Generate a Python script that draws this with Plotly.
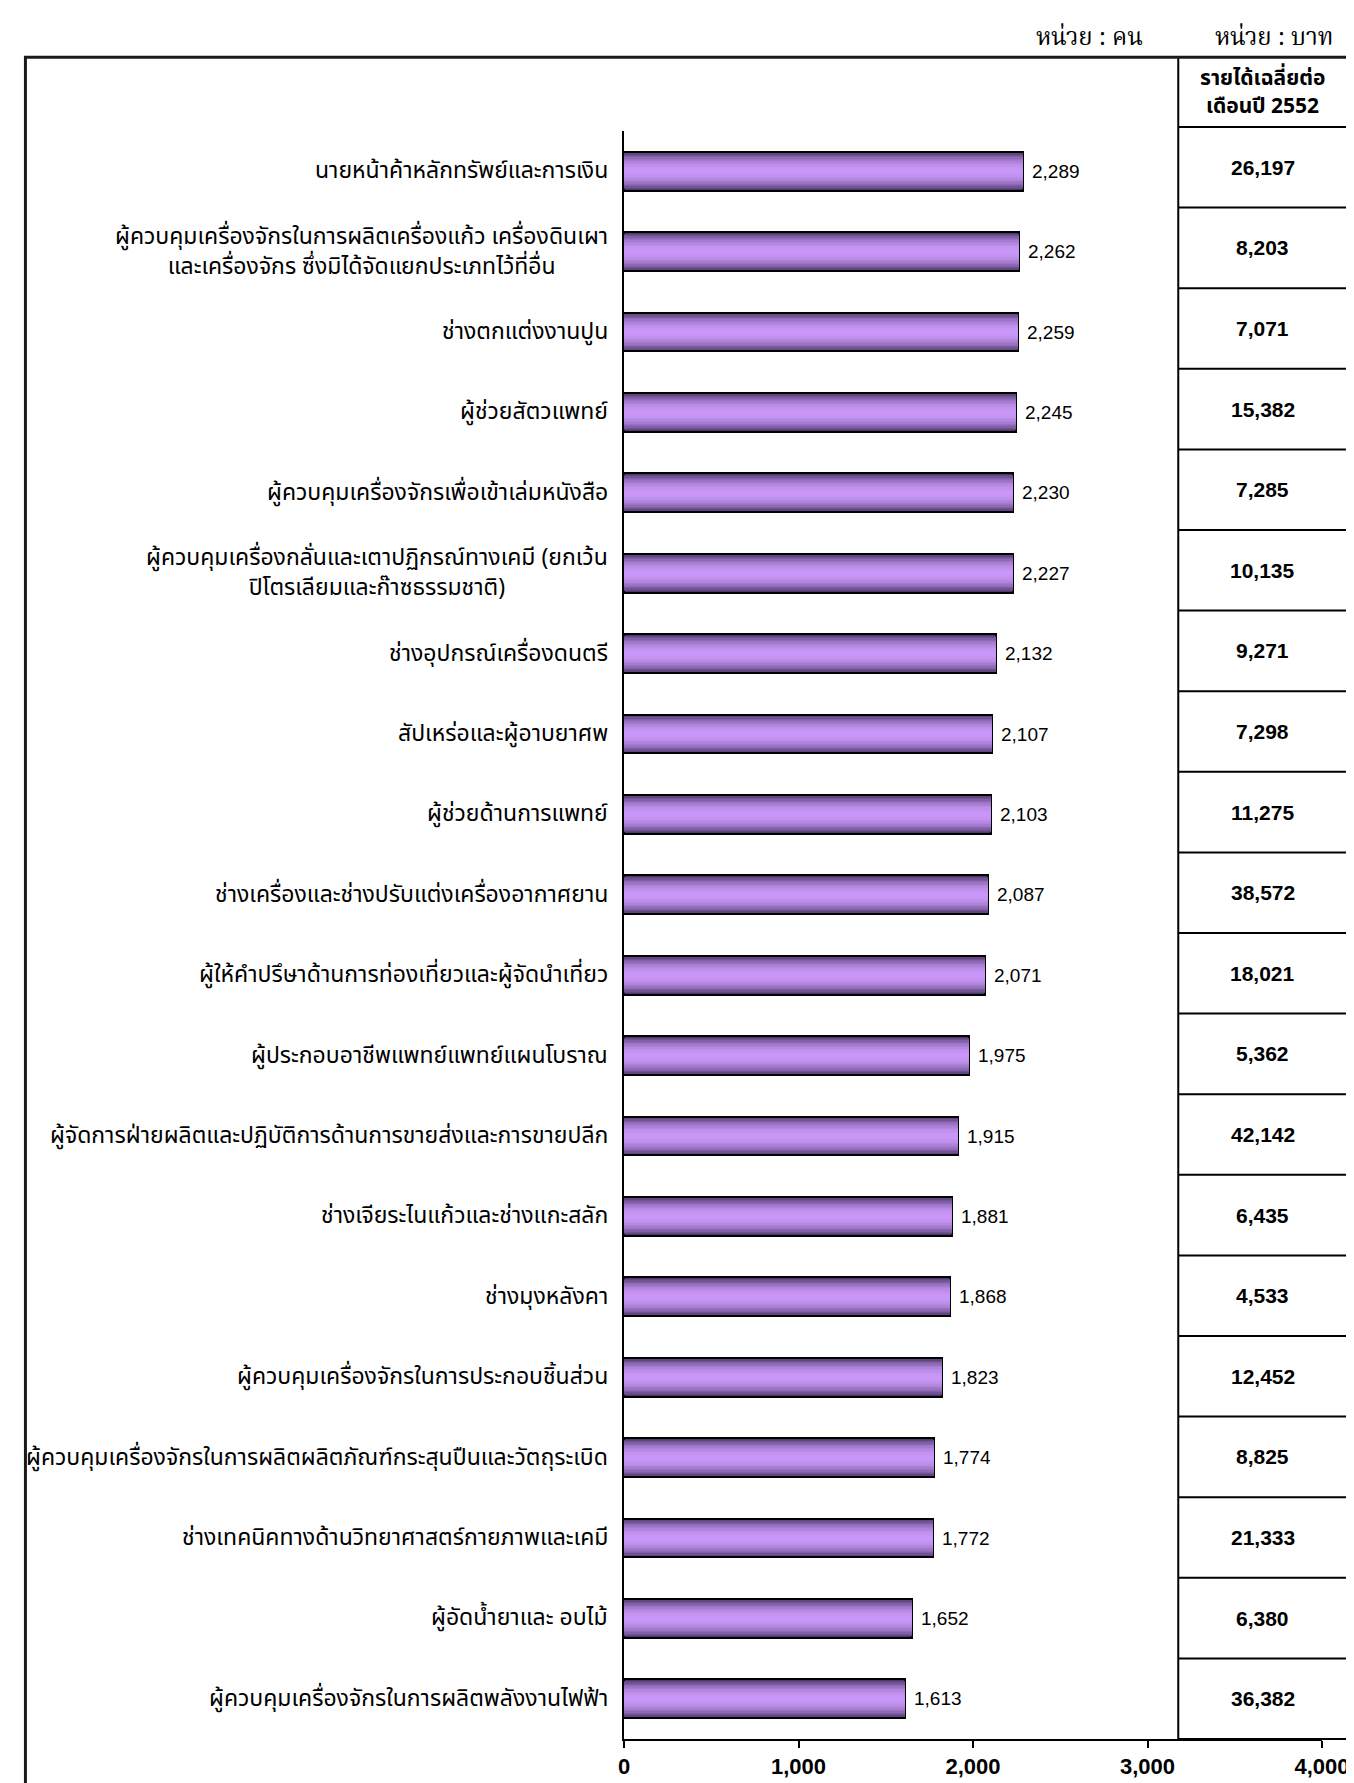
import plotly.graph_objects as go

# ---------------- data ----------------
categories = [
    "นายหน้าค้าหลักทรัพย์และการเงิน",
    "ผู้ควบคุมเครื่องจักรในการผลิตเครื่องแก้ว เครื่องดินเผา<br>และเครื่องจักร ซึ่งมิได้จัดแยกประเภทไว้ที่อื่น",
    "ช่างตกแต่งงานปูน",
    "ผู้ช่วยสัตวแพทย์",
    "ผู้ควบคุมเครื่องจักรเพื่อเข้าเล่มหนังสือ",
    "ผู้ควบคุมเครื่องกลั่นและเตาปฏิกรณ์ทางเคมี (ยกเว้น<br>ปิโตรเลียมและก๊าซธรรมชาติ)",
    "ช่างอุปกรณ์เครื่องดนตรี",
    "สัปเหร่อและผู้อาบยาศพ",
    "ผู้ช่วยด้านการแพทย์",
    "ช่างเครื่องและช่างปรับแต่งเครื่องอากาศยาน",
    "ผู้ให้คำปรึษาด้านการท่องเที่ยวและผู้จัดนำเที่ยว",
    "ผู้ประกอบอาชีพแพทย์แพทย์แผนโบราณ",
    "ผู้จัดการฝ่ายผลิตและปฏิบัติการด้านการขายส่งและการขายปลีก",
    "ช่างเจียระไนแก้วและช่างแกะสลัก",
    "ช่างมุงหลังคา",
    "ผู้ควบคุมเครื่องจักรในการประกอบชิ้นส่วน",
    "ผู้ควบคุมเครื่องจักรในการผลิตผลิตภัณฑ์กระสุนปืนและวัตถุระเบิด",
    "ช่างเทคนิคทางด้านวิทยาศาสตร์กายภาพและเคมี",
    "ผู้อัดน้ำยาและ อบไม้",
    "ผู้ควบคุมเครื่องจักรในการผลิตพลังงานไฟฟ้า",
]
workers = [2289, 2262, 2259, 2245, 2230, 2227, 2132, 2107, 2103, 2087,
           2071, 1975, 1915, 1881, 1868, 1823, 1774, 1772, 1652, 1613]
income = [26197, 8203, 7071, 15382, 7285, 10135, 9271, 7298, 11275, 38572,
          18021, 5362, 42142, 6435, 4533, 12452, 8825, 21333, 6380, 36382]
x_ticks = [0, 1000, 2000, 3000, 4000]
income_header = ["รายได้เฉลี่ยต่อ", "เดือนปี 2552"]
unit_workers = "หน่วย : คน"
unit_income = "หน่วย : บาท"

# ---------------- layout geometry (pixels) ----------------
W, H = 1354, 1783
PL, PR, PT, PB = 616, 1325, 123, 1734   # plot area


def px_x(px):
    return (px - PL) / (PR - PL)


def px_y(py):
    return (PB - py) / (PB - PT)


THAI = "Tahoma, 'Noto Sans Thai', 'Noto Sans Thai UI', Loma, Garuda, 'Leelawadee UI', sans-serif"
THAI_SERIF = "'Angsana New', 'Noto Serif Thai', Norasi, Kinnari, serif"
ARIAL = "Arial, 'Liberation Sans', sans-serif"

fig = go.Figure()

# gradient (cylinder-like) bars via overlaid narrower layers
BAR_W = 0.484
N = 14
dark = (78, 56, 108)
light = (201, 151, 248)
for k in range(N):
    frac = 1 - k / N
    t = frac ** 2.2
    col = tuple(int(round(light[i] + (dark[i] - light[i]) * t)) for i in range(3))
    fig.add_trace(go.Bar(
        x=workers, y=categories, orientation="h",
        width=BAR_W * frac,
        marker=dict(color="rgb(%d,%d,%d)" % col,
                    line=dict(color="black", width=2 if k == 0 else 0)),
        hoverinfo="skip", showlegend=False,
    ))

annotations = []
# category labels
for c in categories:
    annotations.append(dict(
        x=0, y=c, xref="x", yref="y", text=c, showarrow=False,
        xanchor="right", yanchor="middle", align="center", xshift=-14,
        font=dict(family=THAI, size=23, color="black")))
# value labels
for c, v in zip(categories, workers):
    annotations.append(dict(
        x=v, y=c, xref="x", yref="y", text=f"{v:,}", showarrow=False,
        xanchor="left", yanchor="middle", xshift=7,
        font=dict(family=ARIAL, size=19, color="black")))

# table
T_L, T_R, T_TOP, T_HB = 1179, 1351, 50, 119
row_h = (PB - T_HB) / len(income)
shapes = []
# outer frame
shapes.append(dict(type="rect", xref="paper", yref="paper",
                   x0=px_x(8), x1=px_x(1351), y0=px_y(1800), y1=px_y(49),
                   line=dict(color="#1a1a1a", width=3), fillcolor="rgba(0,0,0,0)"))
# table left line
shapes.append(dict(type="line", xref="paper", yref="paper",
                   x0=px_x(T_L), x1=px_x(T_L), y0=px_y(PB), y1=px_y(T_TOP),
                   line=dict(color="black", width=2)))
# header bottom + row lines
for i in range(len(income) + 1):
    yy = T_HB + i * row_h
    shapes.append(dict(type="line", xref="paper", yref="paper",
                       x0=px_x(T_L), x1=px_x(T_R), y0=px_y(yy), y1=px_y(yy),
                       line=dict(color="black", width=2)))
# header text (two lines)
for j, line in enumerate(income_header):
    annotations.append(dict(
        x=px_x((T_L + T_R) / 2), y=px_y(70 + j * 28), xref="paper", yref="paper",
        text=f"<b>{line}</b>", showarrow=False, xanchor="center", yanchor="middle",
        font=dict(family=THAI, size=21, color="black")))
for i, v in enumerate(income):
    yc = T_HB + (i + 0.5) * row_h
    annotations.append(dict(
        x=px_x((T_L + T_R) / 2), y=px_y(yc), xref="paper", yref="paper",
        text=f"<b>{v:,}</b>", showarrow=False, xanchor="center", yanchor="middle",
        font=dict(family=ARIAL, size=21, color="black")))
# unit labels
annotations.append(dict(x=px_x(1089), y=px_y(30), xref="paper", yref="paper",
                        text=unit_workers, showarrow=False, xanchor="center", yanchor="middle",
                        font=dict(family=THAI_SERIF, size=24, color="black")))
annotations.append(dict(x=px_x(1276), y=px_y(30), xref="paper", yref="paper",
                        text=unit_income, showarrow=False, xanchor="center", yanchor="middle",
                        font=dict(family=THAI_SERIF, size=24, color="black")))

fig.update_layout(
    width=W, height=H, autosize=False,
    margin=dict(l=PL, r=W - PR, t=PT, b=H - PB, pad=0),
    paper_bgcolor="white", plot_bgcolor="white",
    barmode="overlay", bargap=0,
    shapes=shapes, annotations=annotations, showlegend=False,
    xaxis=dict(range=[0, 4000], tickvals=x_ticks, ticktext=[f"{t:,}" for t in x_ticks],
               tickfont=dict(family=ARIAL, size=22, color="black", weight="bold"),
               ticks="outside", ticklen=7, tickwidth=2, tickcolor="black",
               showline=True, linecolor="black", linewidth=2,
               showgrid=False, zeroline=False, fixedrange=True),
    yaxis=dict(categoryorder="array", categoryarray=categories, autorange="reversed",
               showticklabels=False, ticks="", showline=True, linecolor="black",
               linewidth=2, showgrid=False, zeroline=False, fixedrange=True),
)

fig.write_html("out.html")
